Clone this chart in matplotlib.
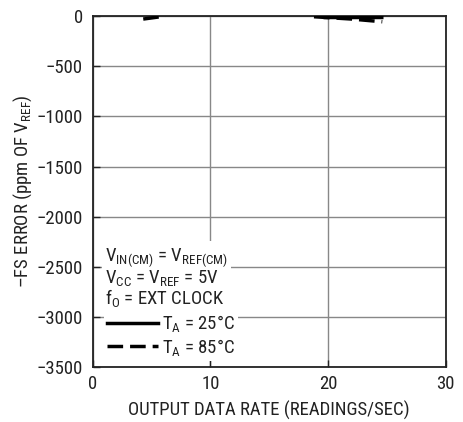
import matplotlib
matplotlib.use("Agg")
import matplotlib.pyplot as plt
import numpy as np
from matplotlib.lines import Line2D
from matplotlib import font_manager

available = {f.name for f in font_manager.fontManager.ttflist}
cands = ['Roboto Condensed', 'Liberation Sans Narrow', 'Noto Sans Condensed',
         'Open Sans Condensed', 'DejaVu Sans Condensed', 'Liberation Sans']
main = next((c for c in cands if c in available), 'DejaVu Sans')
FONT = [main, 'DejaVu Sans']
plt.rcParams['font.family'] = FONT
plt.rcParams['mathtext.fontset'] = 'custom'
plt.rcParams['mathtext.rm'] = main
plt.rcParams['mathtext.it'] = main
plt.rcParams['mathtext.default'] = 'rm'

# data (segments outside the plotted range are absent)
x_25 = [19.6, 22.0, 24.7]
y_25 = [-5, -5, -5]
x_85 = [4.3, 6.2, np.nan, 18.8, 22.0, 24.6]
y_85 = [-30, 0, np.nan, -7, -30, -57]

xticks = [0, 10, 20, 30]
yticks = [0, -500, -1000, -1500, -2000, -2500, -3000, -3500]
ytick_labels = ['0', '−500', '−1000', '−1500', '−2000', '−2500', '−3000', '−3500']

FS = 13.5
fig = plt.figure(figsize=(4.63, 4.22), dpi=100)
ax = fig.add_axes([0.2, 0.130, 0.763, 0.832])

ax.set_xlim(0, 30)
ax.set_ylim(-3500, 0)
ax.set_xticks(xticks)
ax.set_yticks(yticks)
ax.set_yticklabels(ytick_labels)
ax.tick_params(direction='in', length=5, width=1, labelsize=FS, pad=6, colors='#222222')
ax.tick_params(axis='y', pad=7)
ax.grid(True, color='#888888', lw=1)
ax.set_axisbelow(True)
for s in ax.spines.values():
    s.set_linewidth(1.3)
    s.set_color('#222222')

ax.plot(x_25, y_25, color='black', lw=2.5, solid_capstyle='butt', zorder=3)
ax.plot(x_85, y_85, color='black', lw=2.5, dashes=(4.5, 2), zorder=3)

ax.set_xlabel('OUTPUT DATA RATE (READINGS/SEC)', fontsize=FS, labelpad=5, color='#222222')
ax.set_ylabel(r'–FS ERROR (ppm OF V$_{\rm REF}$)', fontsize=FS, labelpad=2, color='#222222')

cond_lines = [r'V$_{\rm IN(CM)}$ = V$_{\rm REF(CM)}$',
              r'V$_{\rm CC}$ = V$_{\rm REF}$ = 5V',
              r'f$_{\rm O}$ = EXT CLOCK']
bb = dict(facecolor='white', edgecolor='none', pad=2.0)
ax.text(0.035, 0.254, '\n'.join(cond_lines), transform=ax.transAxes, fontsize=FS,
        va='center', ha='left', bbox=bb, zorder=4, color='#222222', linespacing=0.95)

handles = [Line2D([], [], color='black', lw=2.5),
           Line2D([], [], color='black', lw=2.5, dashes=(4.5, 2))]
labels = [r'T$_{\rm A}$ = 25°C', r'T$_{\rm A}$ = 85°C']
leg = ax.legend(handles, labels, loc='center left', bbox_to_anchor=(0.033, 0.0897),
                fontsize=FS, frameon=True, handlelength=2.7, handletextpad=0.25,
                labelspacing=0.15, borderpad=0.15, borderaxespad=0.0)
leg.get_frame().set_facecolor('white')
leg.get_frame().set_edgecolor('none')
leg.get_frame().set_alpha(1)
leg.get_frame().set_boxstyle('square', pad=0)
for t in leg.get_texts():
    t.set_color('#222222')
leg.set_zorder(4)

fig.savefig('out.png', dpi=100)
